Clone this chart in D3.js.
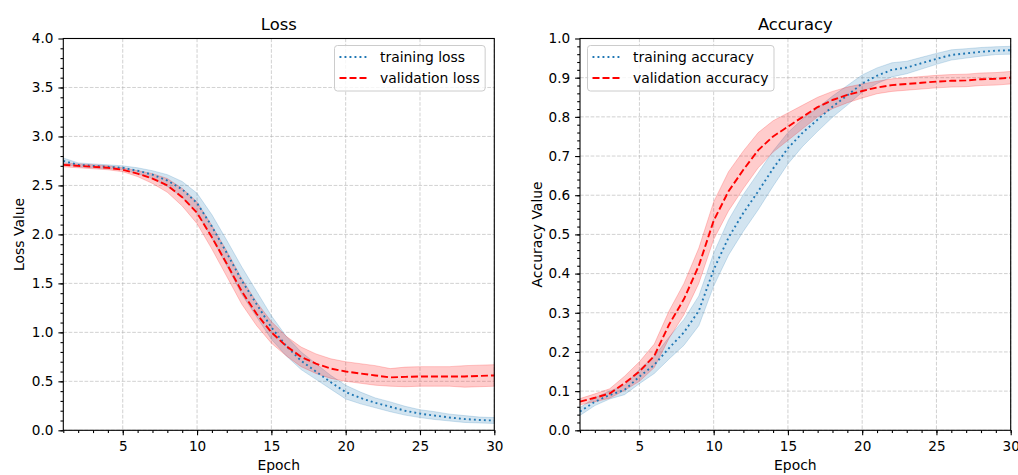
<!DOCTYPE html>
<html>
<head>
<meta charset="utf-8">
<script src="https://cdn.jsdelivr.net/npm/d3@7/dist/d3.min.js"></script>
<style>
  body { margin: 0; background: #fff; }
  svg { font-family: "DejaVu Sans", sans-serif; }
</style>
</head>
<body>
<svg id="chart"></svg>
<script>
const svgWidth = 1018;
const svgHeight = 475;

// data
const epochs = [1,2,3,4,5,6,7,8,9,10,11,12,13,14,15,16,17,18,19,20,21,22,23,24,25,26,27,28,29,30];

const trainLoss    = [2.75,2.71,2.70,2.69,2.68,2.65,2.61,2.55,2.46,2.32,2.08,1.81,1.53,1.29,1.05,0.86,0.71,0.60,0.49,0.39,0.33,0.28,0.24,0.20,0.17,0.15,0.13,0.115,0.105,0.10];
const trainLossStd = [0.03,0.02,0.02,0.02,0.02,0.03,0.04,0.06,0.08,0.10,0.12,0.13,0.14,0.13,0.12,0.10,0.09,0.08,0.07,0.07,0.06,0.05,0.05,0.045,0.04,0.04,0.035,0.035,0.03,0.03];
const valLoss      = [2.71,2.70,2.69,2.68,2.66,2.62,2.57,2.50,2.38,2.22,1.97,1.70,1.42,1.19,1.00,0.86,0.75,0.68,0.63,0.60,0.58,0.56,0.54,0.545,0.55,0.55,0.55,0.55,0.555,0.56];
const valLossStd   = [0.02,0.02,0.02,0.02,0.02,0.03,0.05,0.07,0.09,0.11,0.12,0.13,0.13,0.12,0.11,0.10,0.10,0.10,0.10,0.10,0.10,0.10,0.09,0.10,0.10,0.10,0.10,0.11,0.11,0.11];

const trainAcc     = [0.048,0.073,0.09,0.103,0.137,0.167,0.21,0.25,0.305,0.41,0.492,0.555,0.61,0.668,0.72,0.76,0.793,0.826,0.855,0.885,0.905,0.92,0.926,0.937,0.948,0.958,0.962,0.966,0.969,0.97];
const trainAccStd  = [0.01,0.01,0.01,0.012,0.018,0.022,0.028,0.033,0.038,0.042,0.045,0.047,0.047,0.045,0.04,0.035,0.03,0.027,0.025,0.022,0.02,0.018,0.016,0.015,0.014,0.013,0.012,0.011,0.01,0.01];
const valAcc       = [0.073,0.083,0.094,0.12,0.15,0.19,0.27,0.335,0.42,0.535,0.61,0.665,0.715,0.75,0.775,0.80,0.825,0.843,0.856,0.866,0.875,0.881,0.884,0.887,0.89,0.892,0.893,0.896,0.897,0.90];
const valAccStd    = [0.008,0.01,0.012,0.018,0.025,0.03,0.035,0.04,0.045,0.048,0.05,0.048,0.045,0.04,0.035,0.03,0.025,0.022,0.02,0.018,0.016,0.016,0.016,0.016,0.016,0.016,0.016,0.016,0.016,0.016];

const epochTicks = [5,10,15,20,25,30];
const lossTicks  = [0,0.5,1,1.5,2,2.5,3,3.5,4];
const accTicks   = [0,0.1,0.2,0.3,0.4,0.5,0.6,0.7,0.8,0.9,1.0];

const blue = "#1f77b4";
const red = "#ff0000";
const tickFont = 13.6;
const legendFont = 13.9;
const dotted = "1.9,3.1";
const dashed = "7,3";

const svg = d3.select("#chart")
    .attr("width", svgWidth)
    .attr("height", svgHeight);

function drawPanel(opt) {
    const left = opt.left, right = opt.right, top = 38.5, bottom = 430.3;
    const x = d3.scaleLinear().domain([1, 30]).range([left, right]);
    const y = d3.scaleLinear().domain(opt.yDomain).range([bottom, top]);
    const g = svg.append("g");

    // grid
    g.append("g").selectAll("line").data(epochTicks).join("line")
        .attr("x1", d => x(d)).attr("x2", d => x(d))
        .attr("y1", top).attr("y2", bottom)
        .attr("stroke", "#b0b0b0").attr("stroke-opacity", 0.65)
        .attr("stroke-width", 0.9).attr("stroke-dasharray", "3.7,1.6");
    g.append("g").selectAll("line").data(opt.yTicks).join("line")
        .attr("x1", left).attr("x2", right)
        .attr("y1", d => y(d)).attr("y2", d => y(d))
        .attr("stroke", "#b0b0b0").attr("stroke-opacity", 0.65)
        .attr("stroke-width", 0.9).attr("stroke-dasharray", "3.7,1.6");

    const plot = g.append("g");

    // bands
    opt.series.forEach(s => {
        const area = d3.area()
            .x((d, i) => x(epochs[i]))
            .y0((d, i) => y(s.mean[i] - s.std[i]))
            .y1((d, i) => y(s.mean[i] + s.std[i]));
        plot.append("path")
            .datum(s.mean)
            .attr("d", area)
            .attr("fill", s.color)
            .attr("fill-opacity", 0.2)
            .attr("stroke", s.color)
            .attr("stroke-opacity", 0.2)
            .attr("stroke-width", 1);
    });

    // lines
    opt.series.forEach(s => {
        const line = d3.line()
            .x((d, i) => x(epochs[i]))
            .y(d => y(d));
        plot.append("path")
            .datum(s.mean)
            .attr("d", line)
            .attr("fill", "none")
            .attr("stroke", s.color)
            .attr("stroke-width", 1.9)
            .attr("stroke-dasharray", s.dash)
            .attr("stroke-linejoin", "round");
    });

    // minor ticks
    g.append("g")
        .attr("transform", `translate(0,${bottom})`)
        .call(d3.axisBottom(x).tickValues(epochs).tickSize(2.8).tickFormat(""))
        .call(a => a.select(".domain").remove());
    g.append("g")
        .attr("transform", `translate(${left},0)`)
        .call(d3.axisLeft(y).tickValues(opt.yMinor).tickSize(2.8).tickFormat(""))
        .call(a => a.select(".domain").remove());

    // major ticks
    const xa = g.append("g")
        .attr("transform", `translate(0,${bottom})`)
        .call(d3.axisBottom(x).tickValues(epochTicks).tickSize(4.9).tickPadding(6.2));
    xa.select(".domain").remove();
    const ya = g.append("g")
        .attr("transform", `translate(${left},0)`)
        .call(d3.axisLeft(y).tickValues(opt.yTicks).tickSize(4.9).tickPadding(5)
            .tickFormat(d3.format(".1f")));
    ya.select(".domain").remove();
    g.selectAll(".tick line").attr("stroke", "#000").attr("stroke-width", 1.1);
    g.selectAll(".tick text").attr("font-size", tickFont).attr("fill", "#000")
        .attr("font-family", "DejaVu Sans, sans-serif");

    // spines
    g.append("rect")
        .attr("x", left).attr("y", top)
        .attr("width", right - left).attr("height", bottom - top)
        .attr("fill", "none").attr("stroke", "#000").attr("stroke-width", 1.1);

    // titles and labels
    g.append("text")
        .text(opt.title)
        .attr("x", (left + right) / 2).attr("y", 30)
        .attr("text-anchor", "middle")
        .attr("font-size", 16.4);
    g.append("text")
        .text("Epoch")
        .attr("x", (left + right) / 2).attr("y", 470)
        .attr("text-anchor", "middle")
        .attr("font-size", legendFont);
    g.append("text")
        .text(opt.yLabel)
        .attr("transform", `translate(${opt.yLabelX},${(top + bottom) / 2}) rotate(-90)`)
        .attr("text-anchor", "middle")
        .attr("font-size", legendFont);

    // legend
    const lg = g.append("g");
    const box = lg.append("rect");
    const hx = opt.legendX;
    let maxW = 0;
    opt.series.forEach((s, i) => {
        const ry = 57 + i * 21;
        lg.append("line")
            .attr("x1", hx).attr("x2", hx + 27.8)
            .attr("y1", ry).attr("y2", ry)
            .attr("stroke", s.color).attr("stroke-width", 1.9)
            .attr("stroke-dasharray", s.dash);
        const t = lg.append("text")
            .text(s.label)
            .attr("x", hx + 40.5).attr("y", ry + 5)
            .attr("font-size", legendFont);
        maxW = Math.max(maxW, t.node().getComputedTextLength());
    });
    box.attr("x", hx - 5).attr("y", 45.5)
        .attr("width", 40.5 + maxW + 10.5).attr("height", 45.5)
        .attr("rx", 3).attr("ry", 3)
        .attr("fill", "#fff").attr("fill-opacity", 0.8)
        .attr("stroke", "#cccccc").attr("stroke-width", 1);
}

drawPanel({
    left: 63.3, right: 494.3,
    yDomain: [0, 4],
    yTicks: lossTicks,
    yMinor: d3.range(0, 40).map(d => d / 10),
    title: "Loss",
    yLabel: "Loss Value",
    yLabelX: 24,
    legendX: 339.5,
    series: [
        { mean: trainLoss, std: trainLossStd, color: blue, dash: dotted, label: "training loss" },
        { mean: valLoss, std: valLossStd, color: red, dash: dashed, label: "validation loss" }
    ]
});

drawPanel({
    left: 580, right: 1010.7,
    yDomain: [0, 1],
    yTicks: accTicks,
    yMinor: d3.range(0, 50).map(d => d / 50),
    title: "Accuracy",
    yLabel: "Accuracy Value",
    yLabelX: 541.5,
    legendX: 592.5,
    series: [
        { mean: trainAcc, std: trainAccStd, color: blue, dash: dotted, label: "training accuracy" },
        { mean: valAcc, std: valAccStd, color: red, dash: dashed, label: "validation accuracy" }
    ]
});
</script>
</body>
</html>
